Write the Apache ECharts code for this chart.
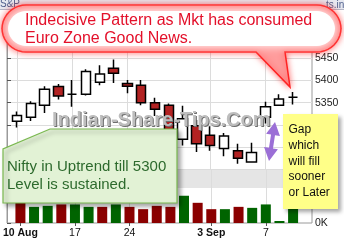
<!DOCTYPE html>
<html><head><meta charset="utf-8">
<script src="https://cdn.jsdelivr.net/npm/echarts@6/dist/echarts.min.js"></script>
<style>html,body{margin:0;padding:0;background:#fff}#c{width:344px;height:242px}</style>
</head><body><div id="c"></div>
<script>
// ---- data ----
const categories = ['10 Aug','13','14','16','17','21','22','23','24','27','28','29','30','31','3 Sep','4','5','6','7','10','11'];
const labeledIdx = [0,4,8,14,18];
const opens  = [5308,5317,5344,5386,5369,5369,5396,5427,5393,5389,5350,5344,5268,5298,5277,5247,5242,5217,5317,5344,5362];
const closes = [5321,5348,5380,5365,5369,5420,5414,5416,5387,5350,5335,5288,5314,5258,5254,5275,5225,5238,5341,5358,5362];
const lows   = [5294,5309,5327,5357,5341,5366,5389,5394,5371,5344,5320,5278,5254,5239,5242,5230,5213,5217,5303,5344,5346];
const highs  = [5330,5353,5387,5392,5401,5425,5434,5447,5401,5401,5361,5348,5343,5311,5297,5282,5258,5260,5352,5369,5374];
const volumes   = [227,160,170,184,184,160,160,184,160,137,170,160,270,200,137,137,160,150,184,20,240];
const volumeDir = ['d','u','u','d','u','u','d','u','d','d','d','d','u','d','d','u','d','u','u','u','u'];
const priceMin = 5200, priceMax = 5550, priceStep = 50;
const volMax = 530;
const calloutLines = ['Indecisive Pattern as Mkt has consumed','Euro Zone Good News.'];
const noteLines = ['Nifty in Uptrend till 5300','Level is sustained.'];
const gapLines = ['Gap','which','will fill','sooner','or Later'];
const watermark = 'Indian-Share-Tips.Com';

// ---- chart ----
const FONT = '"Liberation Sans", Arial, sans-serif';
const chart = echarts.init(document.getElementById('c'));
const isLabeled = (idx) => labeledIdx.indexOf(idx) >= 0;
const candleData = opens.map((o,i)=>[o, closes[i], lows[i], highs[i]]);
const volData = volumes.map((v,i)=>({value:v, itemStyle:{color: volumeDir[i]==='u' ? '#006400' : '#8b0000'}}));
const vLines = labeledIdx.map(i=>({xAxis:i}));
const markLineCfg = {silent:true, symbol:['none','none'], z:1, animation:false, label:{show:false},
  lineStyle:{color:'#dcdcdc', type:'solid', width:1}, data:vLines};

function roundRectPts(x0,y0,x1,y1,r,tail){
  const pts=[];
  const arc=(cx,cy,a0,a1)=>{for(let k=0;k<=10;k++){const a=a0+(a1-a0)*k/10;pts.push([cx+r*Math.cos(a),cy+r*Math.sin(a)]);}};
  arc(x0+r,y0+r,Math.PI,1.5*Math.PI);
  arc(x1-r,y0+r,1.5*Math.PI,2*Math.PI);
  arc(x1-r,y1-r,0,0.5*Math.PI);
  if(tail){pts.push([tail[0],y1],[tail[1],tail[2]],[tail[3],y1]);}
  arc(x0+r,y1-r,0.5*Math.PI,Math.PI);
  return pts;
}
function arrowPts(p0,p1,hl,hw,sw){
  const dx=p1[0]-p0[0], dy=p1[1]-p0[1], L=Math.hypot(dx,dy);
  const ux=dx/L, uy=dy/L, nx=-uy, ny=ux;
  const b0=[p0[0]+ux*hl,p0[1]+uy*hl], b1=[p1[0]-ux*hl,p1[1]-uy*hl];
  const P=(b,s)=>[b[0]+nx*s,b[1]+ny*s];
  return [p0,P(b0,hw),P(b0,sw),P(b1,sw),P(b1,hw),p1,P(b1,-hw),P(b1,-sw),P(b0,-sw),P(b0,-hw)];
}
function txt(text,x,y,size,color,extra){
  return Object.assign({type:'text', z:82, silent:true, style:{text:text, x:x, y:y, font:size+'px '+FONT, fill:color,
    textAlign:'left', align:'left', textVerticalAlign:'middle', verticalAlign:'middle'}}, extra||{});
}

const graphics = [
  {type:'rect', z:0, silent:true, shape:{x:7.5,y:170,width:304.5,height:18}, style:{fill:'#e5e5e5'}},
  // header strip
  {type:'rect', z:55, silent:true, shape:{x:0,y:0,width:344,height:9}, style:{fill:'#e6e8f0'}},
  {type:'line', z:55, silent:true, shape:{x1:0,y1:9.5,x2:344,y2:9.5}, style:{stroke:'#b4b9c9',lineWidth:1}},
  Object.assign(txt('S&P',0,4,10,'#4f5f8c'),{z:56}),
  Object.assign(txt('ts.in',326,5,10,'#4f5f8c'),{z:56}),
  // watermark
  Object.assign(txt(watermark,53,121,'bold 20',  '#6e6e6e'),{z:60}),
  Object.assign(txt(watermark,52,120,'bold 20',  '#bdbdbd'),{z:61}),
  // green note
  {type:'polygon', z:70, silent:true, shape:{points:[[50,129],[177,129],[177,203],[3,203],[3,149]]},
    style:{fill:'#e2f2d5', stroke:'#7ab850', lineWidth:1.2, shadowBlur:4, shadowOffsetX:3, shadowOffsetY:3, shadowColor:'rgba(0,0,0,0.35)'}},
  Object.assign(txt(noteLines[0],7,166.9,15,'#2d6a2d'),{z:71}),
  Object.assign(txt(noteLines[1],7,184.6,15,'#2d6a2d'),{z:71}),
  // yellow note
  {type:'rect', z:70, silent:true, shape:{x:283,y:114,width:55,height:95},
    style:{fill:'#ffff88', shadowBlur:4, shadowOffsetX:3, shadowOffsetY:3, shadowColor:'rgba(0,0,0,0.35)'}},
  // purple arrow
  {type:'polygon', z:72, silent:true, shape:{points:arrowPts([275,122],[269,161],13,7,2)}, style:{fill:'#9b6fd6'}},
  // red callout
  {type:'polygon', z:80, silent:true, shape:{points:roundRectPts(2,5,341,52,24,[285,290,87,256])},
    style:{fill:'#ff9c9c', stroke:'#ff2222', lineWidth:1.5, shadowBlur:6, shadowColor:'rgba(255,0,0,0.55)'}},
  {type:'polygon', z:81, silent:true, shape:{points:roundRectPts(8,11,335,46,18)},
    style:{fill:'#ffffff', shadowBlur:10, shadowColor:'#ffffff'}},
  txt(calloutLines[0],25,21,16,'#e3102a'),
  txt(calloutLines[1],25,38.4,16,'#e3102a')
];
gapLines.forEach((t,i)=>graphics.push(Object.assign(txt(t,288.5,130+i*15.6,12,'#111'),{z:71})));

const option = {
  animation:false,
  backgroundColor:'#ffffff',
  grid:[
    {left:7, top:13.5, width:305, height:156, show:true, borderColor:'#9a9a9a', borderWidth:1},
    {left:10.1, top:13.5, width:289.8, height:156},
    {left:7, top:169.5, width:305, height:53.5, show:true, borderColor:'#9a9a9a', borderWidth:1},
    {left:10.1, top:169.5, width:289.8, height:53.5}
  ],
  xAxis:[
    {gridIndex:0, type:'value', show:false, min:0, max:1},
    {gridIndex:1, type:'category', data:categories, show:false},
    {gridIndex:2, type:'value', show:false, min:0, max:1},
    {gridIndex:3, type:'category', data:categories,
      axisLine:{show:false},
      axisTick:{show:true, alignWithLabel:true, interval:isLabeled, length:3, lineStyle:{color:'#555'}},
      axisLabel:{interval:isLabeled, margin:5, fontSize:10.5, color:'#111', fontFamily:FONT,
        formatter:(v)=> v.indexOf(' ')>=0 ? '{b|'+v+'}' : v,
        rich:{b:{fontWeight:'bold', fontSize:10.5, color:'#111', fontFamily:FONT}}},
      splitLine:{show:false}}
  ],
  yAxis:[
    {gridIndex:0, type:'value', position:'right', min:priceMin, max:priceMax, interval:priceStep,
      axisLine:{show:true, lineStyle:{color:'#9a9a9a'}},
      axisTick:{show:true, length:4, lineStyle:{color:'#555'}},
      axisLabel:{fontSize:10.5, color:'#222', margin:3, fontFamily:FONT, showMaxLabel:false, formatter:(v)=>String(v)},
      splitLine:{show:true, lineStyle:{color:'#dcdcdc'}}},
    {gridIndex:1, type:'value', min:priceMin, max:priceMax, show:false},
    {gridIndex:2, type:'value', position:'right', min:0, max:volMax, interval:volMax,
      axisLine:{show:true, lineStyle:{color:'#9a9a9a'}},
      axisTick:{show:true, length:4, lineStyle:{color:'#555'}},
      axisLabel:{fontSize:10.5, color:'#222', margin:3, fontFamily:FONT, formatter:(v)=> v===0 ? '0K' : ''},
      splitLine:{show:false}},
    {gridIndex:3, type:'value', min:0, max:volMax, show:false}
  ],
  series:[
    {type:'candlestick', xAxisIndex:1, yAxisIndex:1, data:candleData, barWidth:10,
      itemStyle:{color:'#ffffff', color0:'#b22222', borderColor:'#000', borderColor0:'#000', borderColorDoji:'#000', borderWidth:1.5},
      markLine:markLineCfg},
    {type:'bar', xAxisIndex:3, yAxisIndex:3, data:volData, barWidth:10, markLine:markLineCfg}
  ],
  graphic:{elements:graphics}
};
chart.setOption(option);
</script></body></html>
